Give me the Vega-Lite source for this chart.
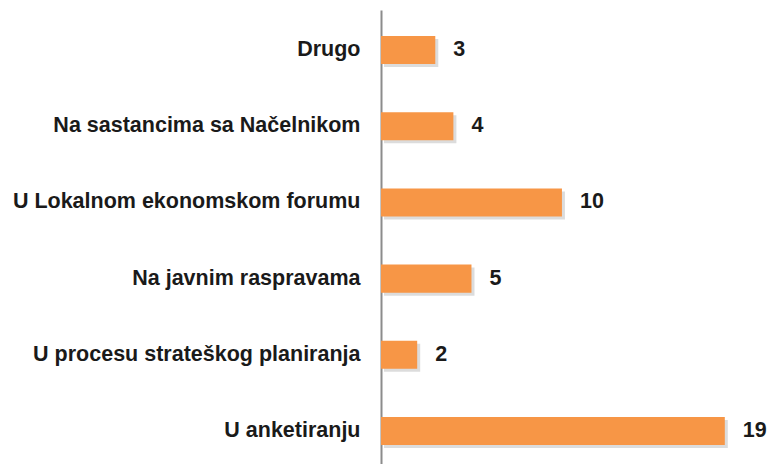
{
  "$schema": "https://vega.github.io/schema/vega-lite/v6.json",
  "width": 380,
  "height": 454,
  "autosize": {"type": "none"},
  "padding": {"left": 381, "top": 10, "right": 8, "bottom": 0},
  "background": "white",
  "config": {"view": {"stroke": null}},
  "data": {
    "values": [
      {"kategorija": "Drugo", "broj": 3, "red": 1},
      {"kategorija": "Na sastancima sa Načelnikom", "broj": 4, "red": 2},
      {"kategorija": "U Lokalnom ekonomskom forumu", "broj": 10, "red": 3},
      {"kategorija": "Na javnim raspravama", "broj": 5, "red": 4},
      {"kategorija": "U procesu strateškog planiranja", "broj": 2, "red": 5},
      {"kategorija": "U anketiranju", "broj": 19, "red": 6}
    ]
  },
  "encoding": {
    "y": {
      "field": "kategorija",
      "type": "nominal",
      "sort": {"field": "red", "order": "ascending"},
      "scale": {"paddingInner": 0.632, "paddingOuter": 0.295, "align": 0.578},
      "axis": {
        "title": null,
        "ticks": false,
        "domain": true,
        "domainColor": "#8c8c8c",
        "domainWidth": 2,
        "labelFont": "Liberation Sans",
        "labelFontWeight": "bold",
        "labelFontSize": 21.5,
        "labelColor": "#1a1a1a",
        "labelPadding": 21,
        "labelLimit": 400
      }
    },
    "x": {
      "field": "broj",
      "type": "quantitative",
      "scale": {"domain": [0, 21]},
      "axis": null
    }
  },
  "layer": [
    {
      "mark": {"type": "bar", "color": "#9a9a9a", "opacity": 0.35, "xOffset": 3, "yOffset": 3}
    },
    {
      "mark": {"type": "bar", "color": "#F79646"}
    },
    {
      "mark": {
        "type": "text",
        "align": "left",
        "baseline": "middle",
        "dx": 18,
        "font": "Liberation Sans",
        "fontWeight": "bold",
        "fontSize": 21.5,
        "color": "#1a1a1a"
      },
      "encoding": {"text": {"field": "broj", "type": "quantitative"}}
    }
  ]
}
